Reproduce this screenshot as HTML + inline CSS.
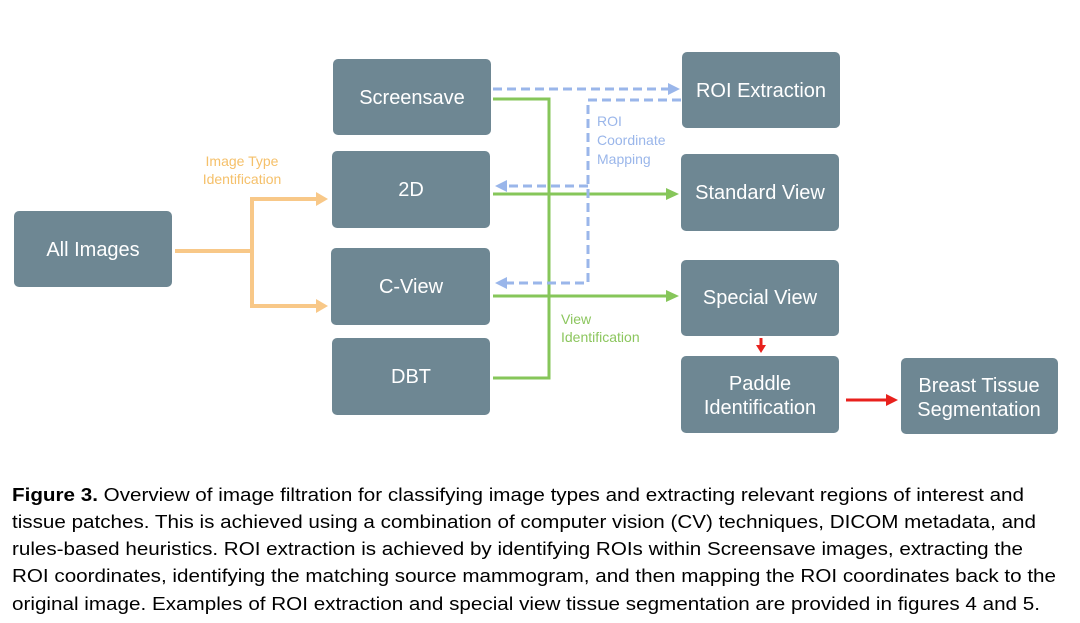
<!DOCTYPE html>
<html><head><meta charset="utf-8"><style>
html,body{margin:0;padding:0;background:#fff;}
svg{display:block;}
text{font-family:"Liberation Sans",Arial,sans-serif;}
.b{fill:#6e8793;}
.t{fill:#fff;font-size:20px;text-anchor:middle;}
.c{fill:#000;font-size:18px;}
</style></head><body>
<svg width="1080" height="623" viewBox="0 0 1080 623" xmlns="http://www.w3.org/2000/svg">
<rect width="1080" height="623" fill="#fff"/>
<!-- boxes -->
<rect class="b" x="14" y="211" width="158" height="76" rx="5"/>
<rect class="b" x="333" y="59" width="158" height="76" rx="5"/>
<rect class="b" x="332" y="151" width="158" height="77" rx="5"/>
<rect class="b" x="331" y="248" width="159" height="77" rx="5"/>
<rect class="b" x="332" y="338" width="158" height="77" rx="5"/>
<rect class="b" x="682" y="52" width="158" height="76" rx="5"/>
<rect class="b" x="681" y="154" width="158" height="77" rx="5"/>
<rect class="b" x="681" y="260" width="158" height="76" rx="5"/>
<rect class="b" x="681" y="356" width="158" height="77" rx="5"/>
<rect class="b" x="901" y="358" width="157" height="76" rx="5"/>
<text class="t" x="93" y="256">All Images</text>
<text class="t" x="412" y="104">Screensave</text>
<text class="t" x="411" y="196">2D</text>
<text class="t" x="411" y="293">C-View</text>
<text class="t" x="411" y="383">DBT</text>
<text class="t" x="761" y="97">ROI Extraction</text>
<text class="t" x="760" y="199">Standard View</text>
<text class="t" x="760" y="304">Special View</text>
<text class="t" x="760" y="390">Paddle</text>
<text class="t" x="760" y="414">Identification</text>
<text class="t" x="979" y="392">Breast Tissue</text>
<text class="t" x="979" y="416">Segmentation</text>
<!-- orange -->
<g stroke="#f8c888" stroke-width="4" fill="none">
<path d="M175 251 H252 M252 199 V308 M250 199 H316 M250 306 H316"/>
</g>
<g fill="#f8c888"><polygon points="316,192 328,199 316,206"/><polygon points="316,299 328,306 316,313"/></g>
<text x="242" y="166" font-size="14" fill="#f5c06a" text-anchor="middle">Image Type</text>
<text x="242" y="184" font-size="14" fill="#f5c06a" text-anchor="middle">Identification</text>
<!-- green -->
<g stroke="#86c65a" stroke-width="3" fill="none">
<path d="M493 99 H549 V378 H493"/>
<path d="M493 194 H667 M493 296 H667"/>
</g>
<g fill="#86c65a"><polygon points="666,188 679,194 666,200"/><polygon points="666,290 679,296 666,302"/></g>
<text x="561" y="324" font-size="14" fill="#8cc65e">View</text>
<text x="561" y="342" font-size="14" fill="#8cc65e">Identification</text>
<!-- blue dashed -->
<g stroke="#9ab6ea" stroke-width="3" fill="none" stroke-dasharray="9,5">
<path d="M493 89 H668"/>
<path d="M681 100 H588 V283 H506"/>
<path d="M588 186 H506"/>
</g>
<g fill="#9ab6ea"><polygon points="668,83 680,89 668,95"/><polygon points="507,180 495,186 507,192"/><polygon points="507,277 495,283 507,289"/></g>
<text x="597" y="126" font-size="14" fill="#9ab6ea">ROI</text>
<text x="597" y="145" font-size="14" fill="#9ab6ea">Coordinate</text>
<text x="597" y="164" font-size="14" fill="#9ab6ea">Mapping</text>
<!-- red -->
<g stroke="#e8211d" stroke-width="3" fill="none"><path d="M761 338 V347 M846 400 H888"/></g>
<g fill="#e8211d"><polygon points="756,345 766,345 761,353"/><polygon points="886,394 898,400 886,406"/></g>
<!-- caption -->
<text class="c" x="12" y="501" textLength="1012" lengthAdjust="spacingAndGlyphs"><tspan font-weight="bold">Figure 3.</tspan> Overview of image filtration for classifying image types and extracting relevant regions of interest and</text>
<text class="c" x="12" y="528" textLength="1024" lengthAdjust="spacingAndGlyphs">tissue patches. This is achieved using a combination of computer vision (CV) techniques, DICOM metadata, and</text>
<text class="c" x="12" y="555" textLength="1011" lengthAdjust="spacingAndGlyphs">rules-based heuristics. ROI extraction is achieved by identifying ROIs within Screensave images, extracting the</text>
<text class="c" x="12" y="582" textLength="1044" lengthAdjust="spacingAndGlyphs">ROI coordinates, identifying the matching source mammogram, and then mapping the ROI coordinates back to the</text>
<text class="c" x="12" y="610" textLength="1028" lengthAdjust="spacingAndGlyphs">original image. Examples of ROI extraction and special view tissue segmentation are provided in figures 4 and 5.</text>
</svg>
</body></html>
